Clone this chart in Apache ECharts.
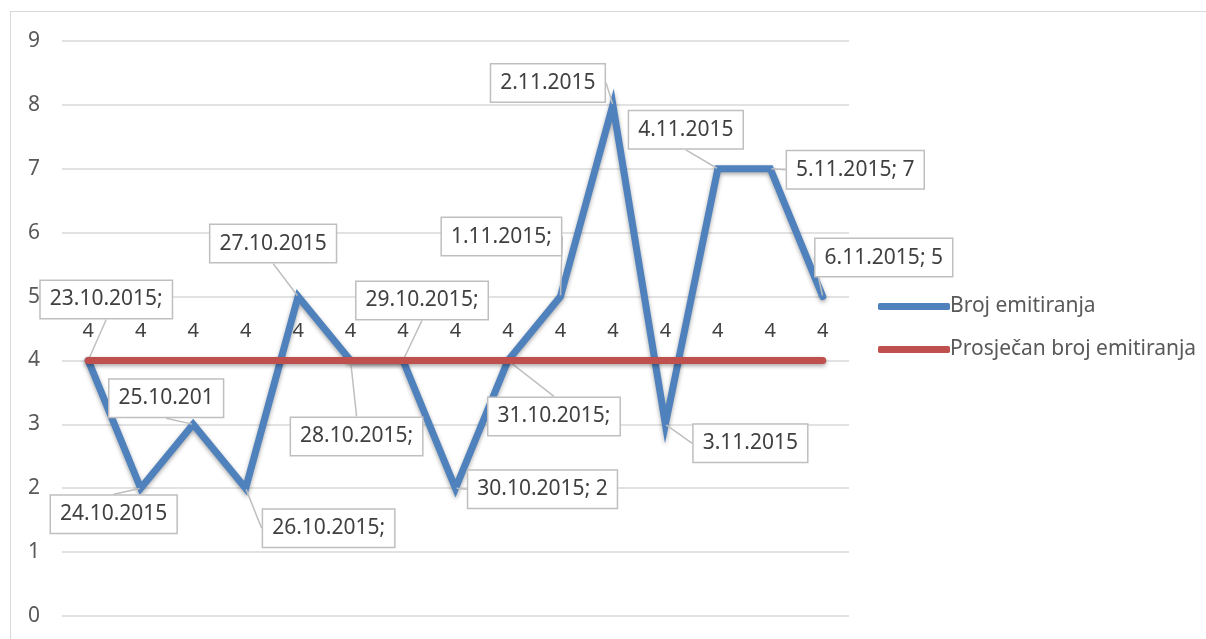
<!DOCTYPE html>
<html>
<head>
<meta charset="utf-8">
<script src="https://cdn.jsdelivr.net/npm/echarts@6/dist/echarts.min.js"></script>
<style>
  html, body { margin: 0; padding: 0; background: #fff; }
  #frame {
    position: absolute; left: 10px; top: 11px; width: 1220px; height: 660px;
    border: 1px solid #d9d9d9; box-sizing: border-box;
  }
  #chart { position: absolute; left: 0; top: 0; width: 1206px; height: 639px; }
</style>
</head>
<body>
<div id="frame"></div>
<div id="chart"></div>
<script>
// categories (dates) and values
const dates = ['23.10.2015', '24.10.2015', '25.10.2015', '26.10.2015', '27.10.2015',
  '28.10.2015', '29.10.2015', '30.10.2015', '31.10.2015', '1.11.2015',
  '2.11.2015', '3.11.2015', '4.11.2015', '5.11.2015', '6.11.2015']
const brojEmitiranja = [4, 2, 3, 2, 5, 4, 4, 2, 4, 5, 8, 3, 7, 7, 5]
const prosjecanBroj = [4, 4, 4, 4, 4, 4, 4, 4, 4, 4, 4, 4, 4, 4, 4]
// text shown in the (truncated) data callouts
const calloutText = ['23.10.2015;', '24.10.2015', '25.10.201', '26.10.2015;', '27.10.2015',
  '28.10.2015;', '29.10.2015;', '30.10.2015; 2', '31.10.2015;', '1.11.2015;',
  '2.11.2015', '3.11.2015', '4.11.2015', '5.11.2015; 7', '6.11.2015; 5']
const yTicks = [0, 1, 2, 3, 4, 5, 6, 7, 8, 9]

// callout box offsets from its point (px)
const calloutOffset = [
  [18, -61], [-27, 26], [-27, -26], [83, 40], [-25, -53],
  [6, 76], [19, -60], [87, 1], [46, 56], [-59, -60],
  [-65, -22], [85, 19], [-32, -39], [85, 1], [61, -39]
]

const chart = echarts.init(document.getElementById('chart'))
const font = 'Noto Sans, sans-serif'
const textColor = '#595959'

chart.setOption({
  animation: false,
  grid: { left: 62, right: 357, top: 41, bottom: 23 },
  legend: {
    orient: 'vertical',
    left: 873,
    top: 291,
    itemWidth: 72,
    itemHeight: 7,
    itemGap: 22,
    icon: 'roundRect',
    textStyle: { fontFamily: font, fontSize: 21, color: textColor, padding: [0, 0, 0, -5] },
    data: ['Broj emitiranja', 'Prosječan broj emitiranja']
  },
  xAxis: {
    type: 'category',
    data: dates,
    boundaryGap: true,
    axisLine: { show: false },
    axisTick: { show: false },
    axisLabel: { show: false }
  },
  yAxis: {
    type: 'value',
    min: yTicks[0],
    max: yTicks[yTicks.length - 1],
    interval: 1,
    axisLine: { show: false },
    axisTick: { show: false },
    axisLabel: { fontFamily: font, fontSize: 21, color: textColor, margin: 22 },
    splitLine: { lineStyle: { color: '#d9d9d9', width: 1.5 } }
  },
  series: [
    {
      name: 'Broj emitiranja',
      type: 'line',
      data: brojEmitiranja,
      symbol: 'circle',
      symbolSize: 2,
      itemStyle: { color: '#4f81bd' },
      lineStyle: {
        color: '#4f81bd', width: 7, cap: 'round', join: 'miter',
        shadowColor: 'rgba(0,0,0,0.35)', shadowBlur: 4, shadowOffsetY: 2
      },
      label: {
        show: true,
        position: 'inside',
        formatter: p => calloutText[p.dataIndex],
        fontFamily: font,
        fontSize: 21,
        color: '#404040',
        backgroundColor: '#fff',
        borderColor: '#bfbfbf',
        borderWidth: 1.5,
        padding: [9, 9, 7, 9]
      },
      labelLine: { show: true, lineStyle: { color: '#bfbfbf', width: 1.5 } },
      labelLayout: p => ({ dx: calloutOffset[p.dataIndex][0], dy: calloutOffset[p.dataIndex][1] }),
      z: 2
    },
    {
      name: 'Prosječan broj emitiranja',
      type: 'line',
      data: prosjecanBroj,
      symbol: 'circle',
      symbolSize: 2,
      itemStyle: { color: '#c0504d' },
      lineStyle: {
        color: '#c0504d', width: 7, cap: 'round',
        shadowColor: 'rgba(0,0,0,0.35)', shadowBlur: 4, shadowOffsetY: 2
      },
      label: {
        show: true,
        position: 'top',
        distance: 18,
        fontFamily: font,
        fontSize: 20,
        color: '#404040'
      },
      z: 3
    }
  ]
})
</script>
</body>
</html>
